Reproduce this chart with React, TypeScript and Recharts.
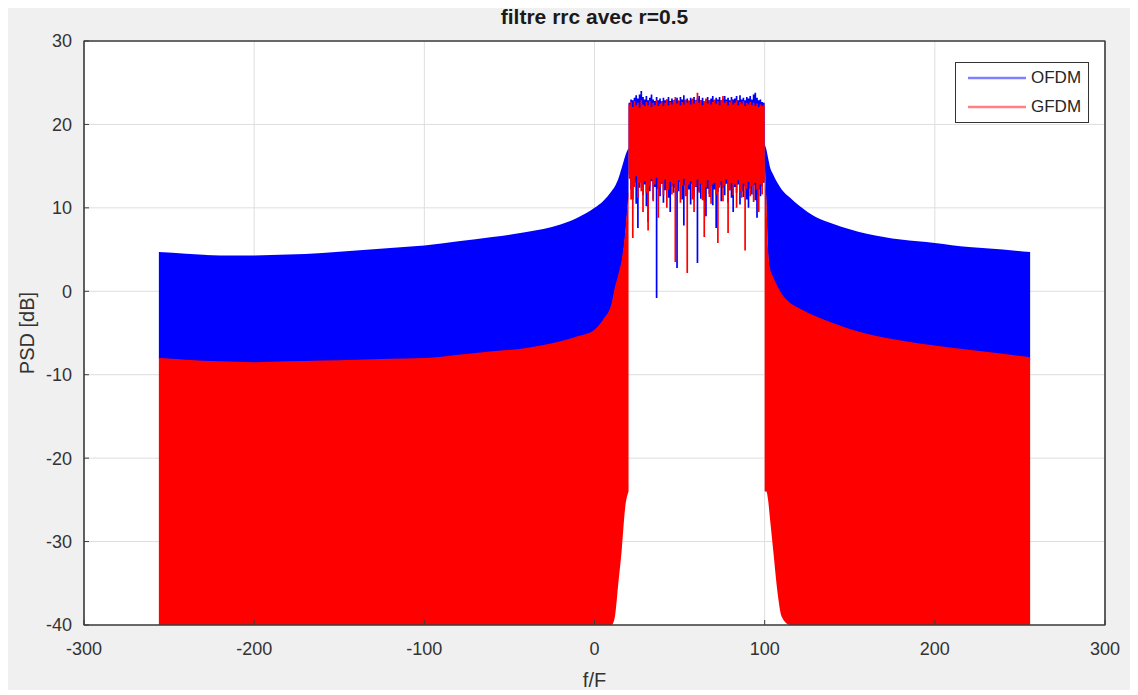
import { ComposedChart, Area, XAxis, YAxis, CartesianGrid, Legend, Label, ReferenceArea } from "recharts";

const FONT = "'Liberation Sans', Arial, sans-serif";

const xTicks = [-300, -200, -100, 0, 100, 200, 300];
const yTicks = [-40, -30, -20, -10, 0, 10, 20, 30];
const seriesNames = ["OFDM", "GFDM"];

// skirt left of the band (envelopes in dB)
const leftF = [-256, -240, -220, -200, -180, -160, -140, -120, -100, -80, -60, -40, -20, -10, 0, 5, 10, 12, 14, 16, 18, 20];
const leftOfdmHi = [4.7, 4.5, 4.3, 4.3, 4.4, 4.6, 4.9, 5.2, 5.5, 6.0, 6.5, 7.1, 8.0, 8.8, 10.0, 10.8, 12.0, 12.6, 13.5, 14.8, 16.2, 17.2];
const leftOfdmLo = [-8.1, -8.3, -8.5, -8.6, -8.5, -8.4, -8.3, -8.2, -8.1, -7.8, -7.4, -7.0, -6.3, -5.7, -4.9, -3.8, -2.0, 0.0, 1.5, 3.3, 6.5, 11.5];
const leftGfdmHi = [-8.0, -8.2, -8.4, -8.5, -8.4, -8.3, -8.2, -8.1, -8.0, -7.6, -7.2, -6.8, -6.0, -5.4, -4.6, -3.4, -1.5, 0.5, 2.0, 3.8, 7.0, 12.0];
const leftGfdmLo = [-40, -40, -40, -40, -40, -40, -40, -40, -40, -40, -40, -40, -40, -40, -40, -40, -40, -39, -35, -31, -26, -24];

// skirt right of the band
const rightF = [100, 101, 102, 103, 105, 107.5, 110, 115, 120, 130, 140, 160, 180, 200, 220, 240, 256];
const rightOfdmHi = [17.6, 17.0, 16.0, 15.0, 14.0, 13.0, 12.2, 11.2, 10.3, 8.9, 8.1, 6.9, 6.2, 5.8, 5.3, 5.0, 4.7];
const rightOfdmLo = [15.5, 10.5, 4.5, 2.5, 1.3, 0.2, -0.7, -1.8, -2.4, -3.4, -4.2, -5.5, -6.3, -6.9, -7.4, -7.9, -8.3];
const rightGfdmHi = [16.0, 11.0, 5.0, 2.9, 1.7, 0.6, -0.3, -1.4, -2.0, -3.0, -3.8, -5.1, -5.9, -6.5, -7.0, -7.5, -7.9];
const rightGfdmLo = [-24, -24, -25, -27, -31, -36, -39, -40, -40, -40, -40, -40, -40, -40, -40, -40, -40];

// in-band part, one value per unit of f from 20 to 100
const bandStart = 20;
const ofdmBandHi = [
  22.6, 23.0, 22.9, 23.2, 23.5, 23.1, 23.6, 24.0, 23.3, 23.0, 23.4, 22.9, 23.2, 23.6, 23.0, 22.8, 23.3, 22.9, 23.1, 22.8,
  23.2, 22.9, 23.0, 23.3, 22.8, 23.1, 22.9, 23.0, 23.2, 22.8, 23.3, 23.0, 23.5, 22.9, 23.1, 22.8, 23.2, 23.0, 23.3, 22.9,
  23.1, 23.4, 22.9, 23.2, 22.8, 23.0, 23.3, 22.9, 23.1, 23.4, 22.9, 23.2, 23.0, 23.3, 22.9, 23.1, 23.4, 23.0, 23.2, 22.9,
  23.3, 23.0, 23.1, 23.4, 22.9, 23.5, 23.0, 23.2, 22.9, 23.3, 23.1, 23.4, 23.0, 23.6, 23.8, 23.2, 22.9, 23.0, 22.7, 22.6,
  22.4,
];
const ofdmBandLo = [
  14.0, 12.2, 11.0, 13.0, 10.5, 7.6, 12.4, 13.1, 11.5, 12.8, 10.2, 8.3, 12.0, 13.2, 11.0, 12.5, -0.8, 12.3, 11.4, 12.9,
  10.6, 12.1, 13.0, 11.2, 9.5, 12.6, 11.8, 12.4, 2.8, 12.0, 13.1, 11.0, 7.9, 12.7, 11.6, 12.2, 10.4, 12.9, 11.3, 12.5,
  3.4, 12.0, 11.1, 12.8, 10.9, 9.0, 12.3, 11.7, 12.6, 10.3, 12.2, 7.6, 11.9, 12.7, 10.8, 12.4, 11.5, 12.9, 10.6, 12.1,
  11.2, 9.5, 12.5, 11.8, 12.8, 10.4, 12.0, 11.3, 12.6, 11.0, 10.0, 12.3, 11.6, 12.7, 10.9, 8.8, 12.2, 11.4, 12.6, 13.0,
  14.0,
];
const gfdmBandHi = [
  22.4, 22.7, 22.1, 22.8, 22.3, 22.6, 22.0, 22.9, 22.4, 22.2, 22.7, 22.3, 22.8, 22.1, 22.6, 22.3, 22.9, 22.2, 22.5, 22.8,
  22.2, 22.6, 23.0, 22.3, 22.7, 22.4, 22.8, 23.3, 22.5, 22.9, 22.3, 22.7, 22.4, 23.0, 22.6, 22.9, 22.4, 23.1, 22.5, 22.8,
  23.8, 22.6, 22.9, 22.3, 22.8, 23.1, 22.5, 22.9, 22.4, 22.7, 23.0, 22.5, 22.8, 22.3, 22.9, 23.4, 22.6, 22.8, 22.3, 22.7,
  22.9, 22.4, 22.6, 22.9, 22.3, 22.7, 22.5, 22.8, 22.2, 22.6, 22.4, 22.7, 22.3, 22.6, 22.2, 22.5, 22.1, 22.4, 22.2, 22.3,
  22.2,
];
const gfdmBandLo = [
  13.5, 11.0, 6.4, 12.5, 13.8, 11.2, 13.0, 12.0, 9.5, 13.2, 11.8, 7.3, 12.6, 13.5, 10.8, 12.8, 13.6, 8.8, 12.4, 13.0,
  11.5, 13.4, 10.0, 12.2, 13.1, 11.6, 12.9, 3.5, 12.0, 13.3, 10.6, 12.7, 13.5, 11.4, 2.2, 12.8, 13.2, 11.0, 9.5, 12.6,
  13.4, 11.8, 12.9, 10.9, 6.5, 12.5, 13.3, 11.3, 10.5, 12.8, 13.0, 11.6, 5.8, 12.4, 13.2, 10.8, 12.7, 13.4, 7.0, 12.1,
  13.0, 11.5, 12.8, 10.0, 13.3, 12.0, 11.2, 12.9, 4.9, 12.3, 13.1, 11.4, 12.6, 10.7, 13.0, 12.2, 9.5, 12.8, 11.6, 13.2,
  12.0,
];

const BLUE = "#0000ff";
const RED = "#ff0000";
const AXIS = "#3c3c3c";
const legendColors = ["#8080ff", "#ff8080"];

type Row = {
  f: number;
  ofdmOut?: [number, number];
  gfdmOut?: [number, number];
  ofdmBand?: [number, number];
  gfdmBand?: [number, number];
};

function buildRows(): Row[] {
  const rows: Row[] = [];
  leftF.forEach((f, i) => {
    rows.push({ f, ofdmOut: [leftOfdmLo[i], leftOfdmHi[i]], gfdmOut: [leftGfdmLo[i], leftGfdmHi[i]] });
  });
  ofdmBandHi.forEach((_, i) => {
    rows.push({
      f: bandStart + i,
      ofdmBand: [ofdmBandLo[i], ofdmBandHi[i]],
      gfdmBand: [gfdmBandLo[i], gfdmBandHi[i]],
    });
  });
  rightF.forEach((f, i) => {
    rows.push({ f, ofdmOut: [rightOfdmLo[i], rightOfdmHi[i]], gfdmOut: [rightGfdmLo[i], rightGfdmHi[i]] });
  });
  return rows;
}

const data = buildRows();

function LegendBox() {
  return (
    <div
      style={{
        width: 132,
        height: 59,
        background: "#fff",
        border: "1px solid #333",
        fontFamily: FONT,
        fontSize: 17,
        color: "#262626",
      }}
    >
      {seriesNames.map((name, i) => (
        <div key={name} style={{ display: "flex", alignItems: "center", height: 29 }}>
          <svg width={75} height={10} style={{ display: "block" }}>
            <line x1={12} x2={70} y1={5} y2={5} stroke={legendColors[i]} strokeWidth={2.5} />
          </svg>
          <span>{name}</span>
        </div>
      ))}
    </div>
  );
}

const tickStyle = { fill: "#333", fontSize: 18, fontFamily: FONT };

export default function App() {
  return (
    <div style={{ position: "relative", width: 1122, height: 682, background: "#f0f0f0", fontFamily: FONT }}>
      <ComposedChart width={1122} height={682} data={data} margin={{ top: 32, right: 24, bottom: 0, left: 0 }}>
        <CartesianGrid stroke="#dedede" fill="#fff" />
        <XAxis
          dataKey="f"
          type="number"
          domain={[-300, 300]}
          ticks={xTicks}
          interval={0}
          allowDataOverflow
          height={65}
          stroke={AXIS}
          tickSize={-5}
          tickMargin={22}
          tick={tickStyle}
        >
          <Label value="f/F" position="insideBottom" offset={3} style={{ fill: "#333", fontSize: 20, fontFamily: FONT }} />
        </XAxis>
        <XAxis
          xAxisId="top"
          orientation="top"
          dataKey="f"
          type="number"
          domain={[-300, 300]}
          ticks={xTicks}
          allowDataOverflow
          height={1}
          stroke={AXIS}
          tickSize={-5}
          tick={false}
        />
        <YAxis
          type="number"
          domain={[-40, 30]}
          ticks={yTicks}
          interval={0}
          allowDataOverflow
          width={76}
          stroke={AXIS}
          tickSize={-5}
          tickMargin={17}
          tick={tickStyle}
        >
          <Label
            value="PSD [dB]"
            angle={-90}
            position="insideLeft"
            offset={19}
            style={{ textAnchor: "middle", fill: "#333", fontSize: 20, fontFamily: FONT }}
          />
        </YAxis>
        <YAxis
          yAxisId="right"
          orientation="right"
          type="number"
          domain={[-40, 30]}
          ticks={yTicks}
          allowDataOverflow
          width={1}
          stroke={AXIS}
          tickSize={-5}
          tick={false}
        />
        <Legend
          layout="vertical"
          align="center"
          verticalAlign="middle"
          content={() => <LegendBox />}
          wrapperStyle={{ position: "absolute", left: 947, top: 54, width: 134, height: 61 }}
        />
        <Area
          dataKey="ofdmOut"
          name="OFDM"
          type="monotone"
          stroke="none"
          fill={BLUE}
          fillOpacity={1}
          isAnimationActive={false}
        />
        <Area
          dataKey="ofdmBand"
          name="OFDM"
          type="stepAfter"
          stroke="none"
          fill={BLUE}
          fillOpacity={1}
          isAnimationActive={false}
        />
        <Area
          dataKey="gfdmOut"
          name="GFDM"
          type="monotone"
          stroke="none"
          fill={RED}
          fillOpacity={1}
          isAnimationActive={false}
        />
        <Area
          dataKey="gfdmBand"
          name="GFDM"
          type="stepAfter"
          stroke="none"
          fill={RED}
          fillOpacity={1}
          isAnimationActive={false}
        />
        <ReferenceArea
          x1={-300}
          x2={300}
          y1={-40}
          y2={30}
          fill="none"
          stroke={AXIS}
          strokeWidth={1.2}
          ifOverflow="visible"
        />
      </ComposedChart>
      <div
        style={{
          position: "absolute",
          left: 76,
          width: 1021,
          top: -3,
          textAlign: "center",
          fontWeight: "bold",
          fontSize: 21,
          color: "#1a1a1a",
        }}
      >
        filtre rrc avec r=0.5
      </div>
    </div>
  );
}
